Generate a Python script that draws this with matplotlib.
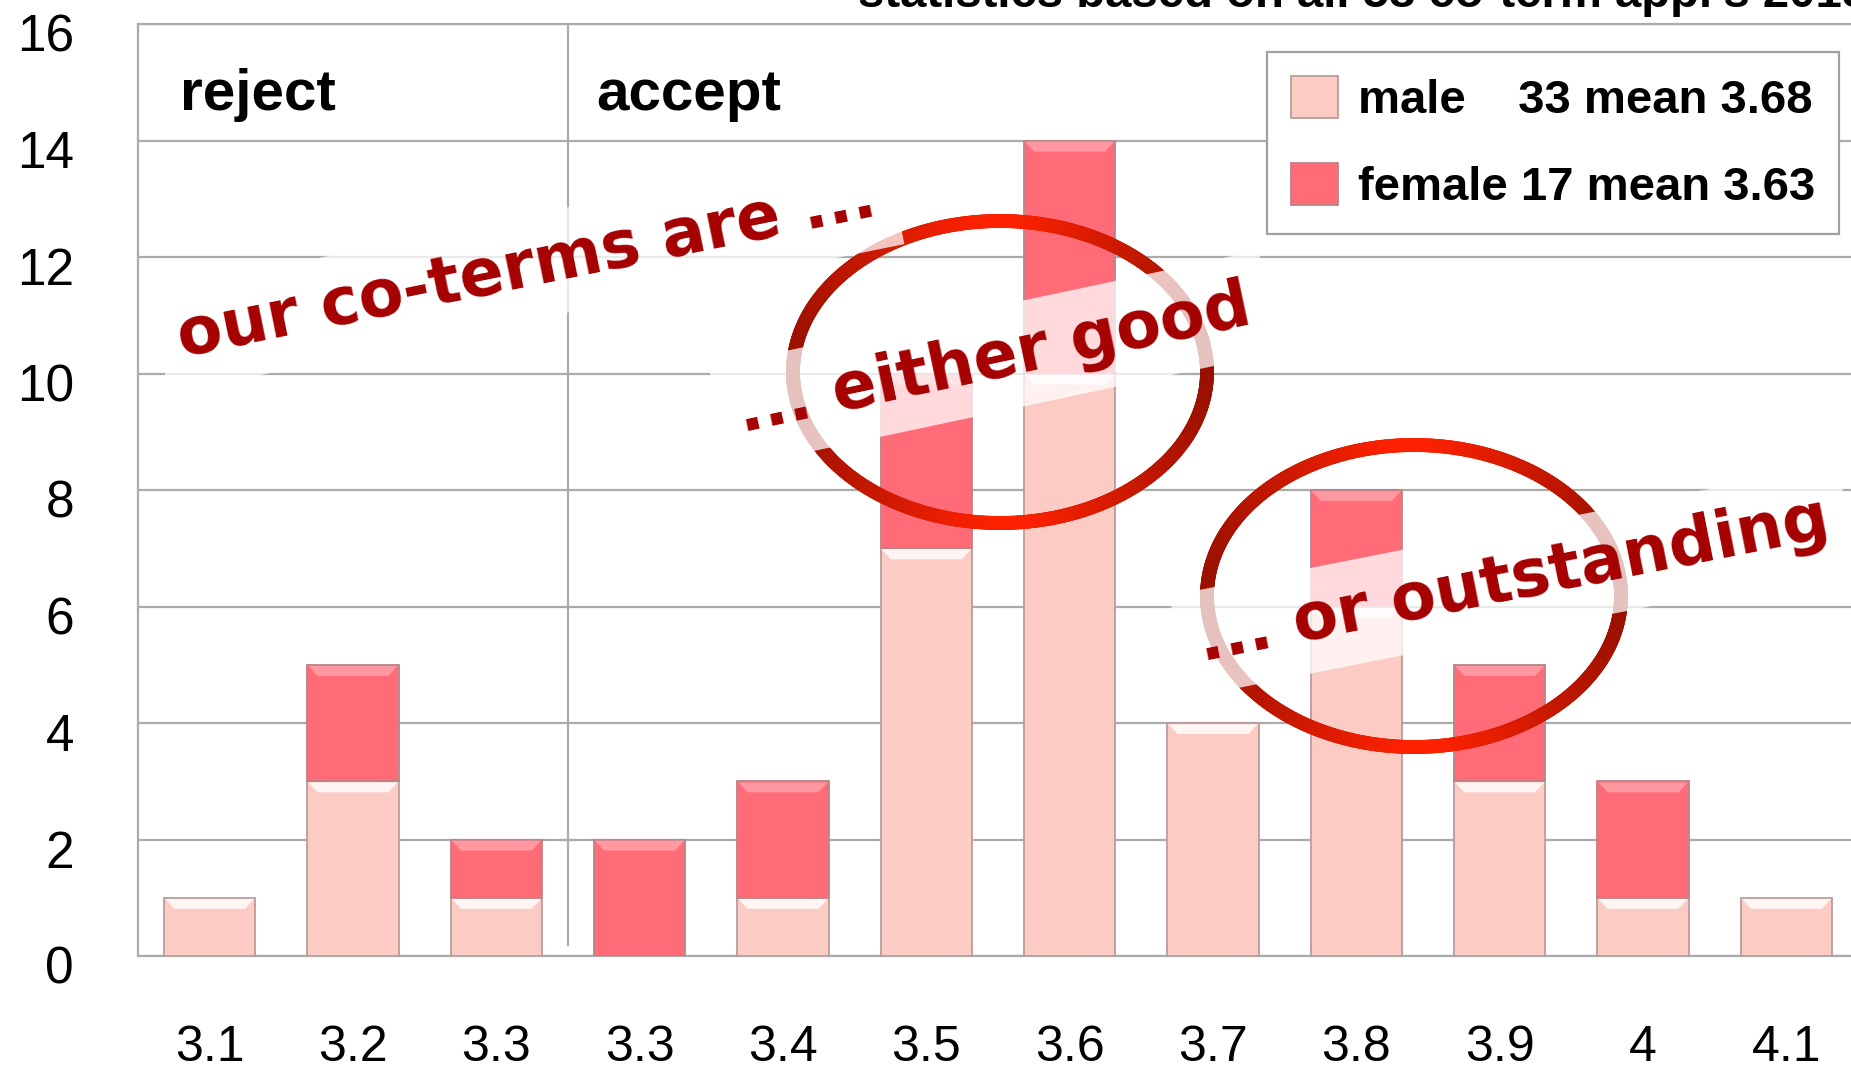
import numpy as np
import matplotlib
matplotlib.use('Agg')
import matplotlib.pyplot as plt
from matplotlib.patches import Polygon
from matplotlib.collections import LineCollection
from matplotlib.font_manager import FontProperties
from matplotlib.transforms import ScaledTranslation
import matplotlib.colors as mcolors

# ---------------- data ----------------
categories = ['3.1', '3.2', '3.3', '3.3', '3.4', '3.5', '3.6', '3.7', '3.8', '3.9', '4', '4.1']
male = [1, 3, 1, 0, 1, 7, 10, 4, 6, 3, 1, 1]
female = [0, 2, 1, 2, 2, 3, 4, 0, 2, 2, 2, 0]
y_ticks = [0, 2, 4, 6, 8, 10, 12, 14, 16]
n_reject = 3
group_labels = ['reject', 'accept']
legend_labels = ['male    33 mean 3.68', 'female 17 mean 3.63']
title = "statistics based on all 58 co-term appl's 2015"
notes = ['our co-terms are ...', '... either good', '... or outstanding']

# ---------------- style ----------------
W, H = 1851, 1076
DPI = 100
fam = ['Liberation Sans', 'DejaVu Sans']
plt.rcParams['font.family'] = fam

male_c = '#FCCBC3'
female_c = '#FF6B76'
grid_c = '#ABABAB'

def fx(px):
    return px / W

def fy(py):
    return 1 - py / H

fig = plt.figure(figsize=(W / DPI, H / DPI), dpi=DPI)
ax = fig.add_axes([fx(138), fy(956), fx(1858) - fx(138), fy(24) - fy(956)])

x = np.arange(len(categories))
male_a = np.array(male)
female_a = np.array(female)
bw = 0.635

mm = male_a > 0
ff = female_a > 0
bm = ax.bar(x[mm], male_a[mm], width=bw, color=male_c, edgecolor='#B99C9A',
            linewidth=1.3, zorder=3)
bf = ax.bar(x[ff], female_a[ff], bottom=male_a[ff], width=bw, color=female_c,
            edgecolor='#B98488', linewidth=1.3, zorder=3)

# bevel highlight at the top of every segment
dx, dy = 0.07, 0.19
for xs, bots, vals, col in [(x[mm], np.zeros(mm.sum()), male_a[mm], '#FFF5F2'),
                            (x[ff], male_a[ff], female_a[ff], '#FF98A0')]:
    for xi, b, v in zip(xs, bots, vals):
        top = b + v
        x0, x1 = xi - bw / 2, xi + bw / 2
        poly = Polygon([(x0 + 0.006, top - 0.02), (x1 - 0.006, top - 0.02),
                        (x1 - dx, top - dy), (x0 + dx, top - dy)],
                       closed=True, facecolor=col, edgecolor='none', zorder=4)
        ax.add_patch(poly)

ax.set_xlim(-0.5, len(categories) - 0.5)
ax.set_ylim(0, 16)
ax.set_yticks(y_ticks)
ax.set_xticks(x, categories)
ax.yaxis.grid(True, color=grid_c, linewidth=1.6)
ax.set_axisbelow(True)
ax.tick_params(axis='both', length=0)
ax.tick_params(axis='y', pad=46, labelsize=37)
ax.tick_params(axis='x', pad=50, labelsize=36)
for lab in ax.get_yticklabels():
    lab.set_transform(lab.get_transform() + ScaledTranslation(0, -0.09, fig.dpi_scale_trans))
for s in ['left', 'bottom', 'top']:
    ax.spines[s].set_color(grid_c)
    ax.spines[s].set_linewidth(1.6)
ax.spines['right'].set_visible(False)

# reject / accept divider
ax.axvline(n_reject - 0.5, ymin=0.012, ymax=1, color=grid_c, linewidth=1.6, zorder=1)

ax.text(-0.5 + 0.29, 14.52, group_labels[0], fontsize=42, fontweight='bold', va='baseline', ha='left')
ax.text(n_reject - 0.5 + 0.2, 14.52, group_labels[1], fontsize=42, fontweight='bold', va='baseline', ha='left')

# legend
leg = ax.legend([bm, bf], legend_labels, loc='upper right',
                bbox_to_anchor=(fx(1839), fy(52)), bbox_transform=fig.transFigure,
                frameon=True, fancybox=False, edgecolor='#A0A0A0', framealpha=1,
                prop=FontProperties(family=fam, weight='bold', size=34),
                handlelength=1.0, handleheight=1.0, handletextpad=0.42,
                labelspacing=0.85, borderpad=0.5, borderaxespad=0)
leg.get_frame().set_linewidth(1.6)

# title (cut at top, as in the original)
fig.text(fx(858), fy(7), title, fontsize=34, fontweight='bold', ha='left', va='baseline')

# red rings with horizontal gradient
bright = np.array(mcolors.to_rgb('#FF2200'))
dark = np.array(mcolors.to_rgb('#9A1000'))

def ring(cx, cy, rx, ry):
    t = np.linspace(0, 2 * np.pi, 721)
    xs = fx(cx + rx * np.cos(t))
    ys = fy(cy + ry * np.sin(t))
    pts = np.column_stack([xs, ys])
    segs = np.stack([pts[:-1], pts[1:]], axis=1)
    tm = 0.5 * (t[:-1] + t[1:])
    f = np.abs(np.cos(tm)) ** 1.3
    cols = (1 - f)[:, None] * bright + f[:, None] * dark
    lc = LineCollection(segs, colors=cols, linewidths=10, transform=fig.transFigure,
                        capstyle='round', zorder=6, clip_on=False)
    ax.add_collection(lc)

ring(1000, 372, 207, 151)
ring(1414, 596, 207, 151)

# handwritten-like notes (anchored at the middle of their baseline)
note_pos = [(530, 286, 11.5), (998, 377, 12.0), (1517, 598, 11.2)]
for s, (cx, cy, ang) in zip(notes, note_pos):
    fig.text(fx(cx), fy(cy), s, fontsize=47, fontweight='bold', color='#A50000',
             family=['DejaVu Sans'], rotation=ang, rotation_mode='anchor',
             ha='center', va='baseline', zorder=7,
             bbox=dict(boxstyle='square,pad=0.3', fc='white', ec='none', alpha=0.75))

fig.savefig('out.png', dpi=DPI)
